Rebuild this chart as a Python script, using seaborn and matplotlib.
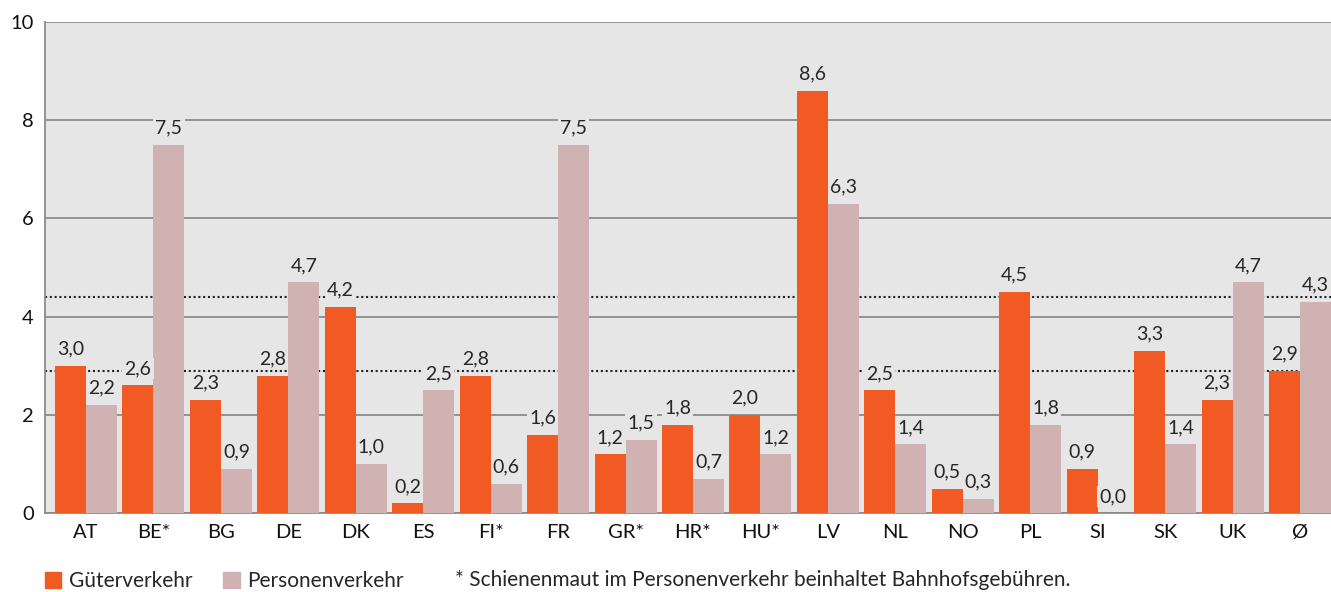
import pandas as pd
import matplotlib.pyplot as plt
import seaborn as sns
from matplotlib.patches import Patch

# Daten
laender = ['AT', 'BE*', 'BG', 'DE', 'DK', 'ES', 'FI*', 'FR', 'GR*', 'HR*',
           'HU*', 'LV', 'NL', 'NO', 'PL', 'SI', 'SK', 'UK', 'Ø']
gueter = [3.0, 2.6, 2.3, 2.8, 4.2, 0.2, 2.8, 1.6, 1.2, 1.8,
          2.0, 8.6, 2.5, 0.5, 4.5, 0.9, 3.3, 2.3, 2.9]
personen = [2.2, 7.5, 0.9, 4.7, 1.0, 2.5, 0.6, 7.5, 1.5, 0.7,
            1.2, 6.3, 1.4, 0.3, 1.8, 0.0, 1.4, 4.7, 4.3]
mittel_linien = [4.4, 2.9]

df = pd.DataFrame({'land': laender * 2,
                   'wert': gueter + personen,
                   'art': ['Güterverkehr'] * len(laender) + ['Personenverkehr'] * len(laender)})

farben = {'Güterverkehr': '#f15a22', 'Personenverkehr': '#d0b2b2'}
hg = '#e6e6e6'

sns.set_style('white')
plt.rcParams['font.family'] = ['Lato', 'DejaVu Sans']

fig = plt.figure(figsize=(13.31, 5.92), dpi=100)
ax = fig.add_axes([45 / 1331, 78.7 / 592, 1 - 45 / 1331, 491.6 / 592])
ax.set_facecolor(hg)

sns.barplot(data=df, x='land', y='wert', hue='art', palette=farben,
            width=0.92, gap=0, saturation=1, linewidth=0, ax=ax, legend=False, zorder=3)

ax.set_ylim(0, 10)
ax.set_xlim(-0.608, 18.46)
ax.set_yticks([0, 2, 4, 6, 8, 10])
ax.yaxis.grid(True, color='#8c8c8c', linewidth=1.3, zorder=0)
ax.set_axisbelow(True)
for y in mittel_linien:
    ax.axhline(y, color='#222222', linestyle=(0, (1, 1.3)), linewidth=1.5, zorder=1)

for c in ax.containers:
    for bar in c:
        h = bar.get_height()
        ax.text(bar.get_x() + bar.get_width() / 2, h + 0.17, f'{h:.1f}'.replace('.', ','),
                ha='center', va='bottom', fontsize=14, zorder=4,
                bbox=dict(facecolor=hg, edgecolor='none', pad=1.5))

ax.set_xlabel('')
ax.set_ylabel('')
ax.tick_params(axis='both', labelsize=14.5, length=0, pad=8, labelcolor='#111111')
for s in ['top', 'right']:
    ax.spines[s].set_visible(False)
ax.spines['left'].set_color('#8c8c8c')
ax.spines['bottom'].set_color('#8c8c8c')
ax.spines['left'].set_linewidth(1.3)
ax.spines['bottom'].set_linewidth(1.3)

handles = [Patch(color=farben[k], label=k) for k in farben]
fig.legend(handles=handles, loc='lower left', bbox_to_anchor=(26 / 1331, -0.03), ncol=2,
           frameon=False, fontsize=15, handlelength=0.8, handleheight=0.8,
           handletextpad=0.35, columnspacing=1.5)
fig.text(455 / 1331, 2 / 592, '* Schienenmaut im Personenverkehr beinhaltet Bahnhofsgebühren.',
         fontsize=15, va='bottom', ha='left')

fig.savefig('out.png', dpi=100)
